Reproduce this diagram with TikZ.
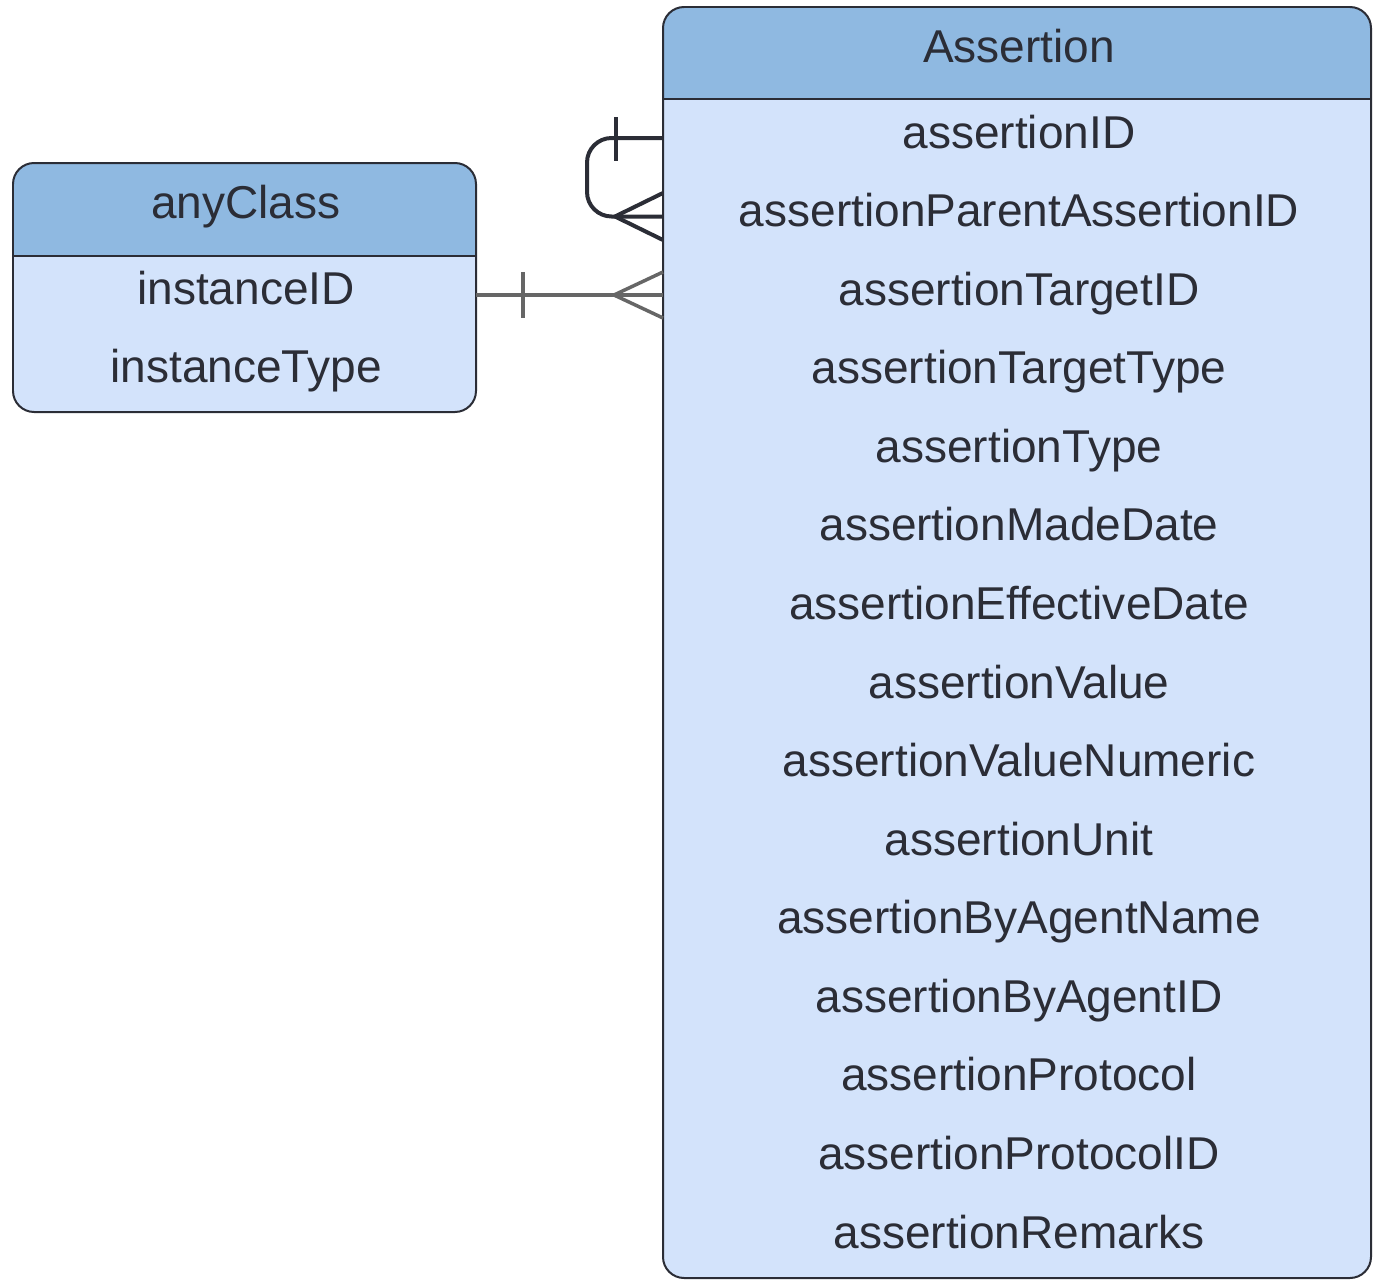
\documentclass[tikz,border=0pt]{standalone}
\usepackage{fontspec}
\setmainfont{Liberation Sans}
\usepackage{tikz}
\usetikzlibrary{calc}

\definecolor{headfill}{HTML}{8FB9E1}
\definecolor{bodyfill}{HTML}{D3E3FB}
\definecolor{inkdark}{HTML}{2B2D36}
\definecolor{relgray}{HTML}{666666}

\tikzset{
  boxline/.style={draw=inkdark, line width=0.04cm},
  field/.style={anchor=base, inner sep=0pt, text=inkdark, font=\fontsize{26.2}{30}\selectfont},
  selfrel/.style={draw=inkdark, line width=0.08cm},
  linkrel/.style={draw=relgray, line width=0.07cm}
}

\begin{document}
\begin{tikzpicture}[x=0.02cm, y=-0.02cm]
\useasboundingbox (0,0) rectangle (1380,1288);

% anyClass table
\begin{scope}
\clip[rounded corners=12] (13,163) rectangle (476,412);
\fill[bodyfill] (13,163) rectangle (476,412);
\fill[headfill] (13,163) rectangle (476,256);
\end{scope}
\draw[boxline, rounded corners=12] (13,163) rectangle (476,412);
\draw[boxline] (13,256) -- (476,256);
\node[field] (anyclass) at (246,218) {anyClass};
\node[field] (instanceid) at (246,304) {instanceID};
\node[field] (instancetype) at (246,382) {instanceType};

% Assertion table
\begin{scope}
\clip[rounded corners=12] (663,7) rectangle (1371,1278);
\fill[bodyfill] (663,7) rectangle (1371,1278);
\fill[headfill] (663,7) rectangle (1371,99);
\end{scope}
\draw[boxline, rounded corners=12] (663,7) rectangle (1371,1278);
\draw[boxline] (663,99) -- (1371,99);
\node[field] (assertion) at (1019,62.5) {Assertion};
\node[field] (aid) at (1019,148) {assertionID};
\node[field] (aparent) at (1019,226.6) {assertionParentAssertionID};
\node[field] (atargetid) at (1019,305.1) {assertionTargetID};
\node[field] (atargettype) at (1019,383.7) {assertionTargetType};
\node[field] (atype) at (1019,462.3) {assertionType};
\node[field] (amade) at (1019,540.9) {assertionMadeDate};
\node[field] (aeffective) at (1019,619.4) {assertionEffectiveDate};
\node[field] (avalue) at (1019,698) {assertionValue};
\node[field] (anumeric) at (1019,776.6) {assertionValueNumeric};
\node[field] (aunit) at (1019,855.1) {assertionUnit};
\node[field] (aagentname) at (1019,933.7) {assertionByAgentName};
\node[field] (aagentid) at (1019,1012.3) {assertionByAgentID};
\node[field] (aprotocol) at (1019,1090.9) {assertionProtocol};
\node[field] (aprotocolid) at (1019,1169.4) {assertionProtocolID};
\node[field] (aremarks) at (1019,1248) {assertionRemarks};

% connector ends
\coordinate (selfout) at (663,138);
\coordinate (selfin) at (663,216.5);
\coordinate (linkout) at (476,295);
\coordinate (linkin) at (663,295);

% parent assertion (self relation)
\draw[selfrel, rounded corners=14] (selfout) -- ++(-76,0) |- (selfin);
\draw[selfrel] ($(selfout)+(-47,-21)$) -- ++(0,44);
\draw[selfrel] ($(selfin)+(0,-23.5)$) -- ($(selfin)+(-48,0)$) -- ($(selfin)+(0,23.5)$);

% target instance
\draw[linkrel] (linkout) -- (linkin);
\draw[linkrel] ($(linkout)+(47,-23)$) -- ++(0,46);
\draw[linkrel] ($(linkin)+(0,-23)$) -- ($(linkin)+(-49,0)$) -- ($(linkin)+(0,23)$);
\end{tikzpicture}
\end{document}
